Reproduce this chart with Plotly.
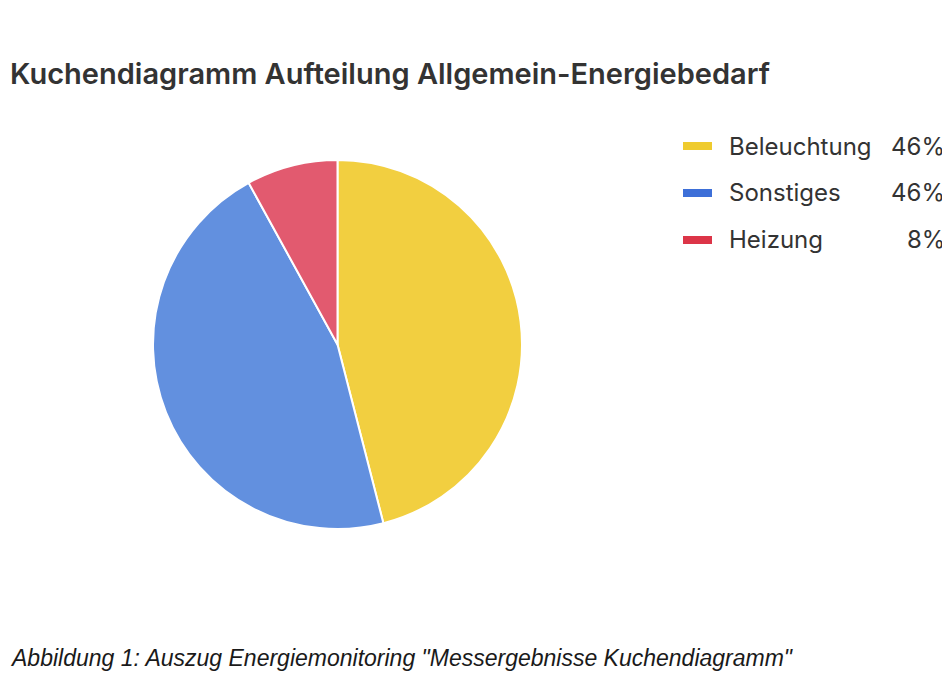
import plotly.graph_objects as go

# Daten
kategorien = ['Beleuchtung', 'Sonstiges', 'Heizung']
anteile = [46, 46, 8]
farben_pie = ['#F2CF40', '#6290DF', '#E25A6F']
farben_legende = ['#EFCB2E', '#3D6FD8', '#DC3548']

titel = 'Kuchendiagramm Aufteilung Allgemein-Energiebedarf'
unterschrift = 'Abbildung 1: Auszug Energiemonitoring "Messergebnisse Kuchendiagramm"'

# die Seite hat 8px Rand (body margin), daher Figur etwas kleiner
OFF = 8
W, H = 950 - OFF, 700 - OFF


def px(sx):
    return (sx - OFF) / W


def py(sy):
    return 1 - (sy - OFF) / H


fig = go.Figure()
fig.add_trace(go.Pie(
    labels=kategorien,
    values=anteile,
    sort=False,
    direction='clockwise',
    rotation=0,
    marker=dict(colors=farben_pie, line=dict(color='white', width=2)),
    textinfo='none',
    hoverinfo='label+percent',
    domain=dict(x=[px(153), px(522)], y=[py(529), py(160)]),
    showlegend=False,
))

# eigene Legende mit Prozentwerten rechts
summe = sum(anteile)
shapes = []
annotations = []
for i, (name, wert, farbe) in enumerate(zip(kategorien, anteile, farben_legende)):
    yc = 146 + i*47
    shapes.append(dict(
        type='rect', xref='paper', yref='paper',
        x0=px(683), x1=px(712), y0=py(yc+4), y1=py(yc-4),
        fillcolor=farbe, line=dict(width=0), layer='above',
    ))
    annotations.append(dict(
        text=name, xref='paper', yref='paper',
        x=px(727), y=py(yc), xanchor='left', yanchor='middle',
        showarrow=False, font=dict(family='Inter', size=24, color='#333333'),
    ))
    annotations.append(dict(
        text=f'{round(wert/summe*100)}%', xref='paper', yref='paper',
        x=px(947), y=py(yc), xanchor='right', yanchor='middle',
        showarrow=False, font=dict(family='Inter', size=24, color='#333333'),
    ))

annotations.append(dict(
    text=titel, xref='paper', yref='paper',
    x=0, y=py(74), xanchor='left', yanchor='middle',
    showarrow=False, font=dict(family='Inter', size=29, color='#333333', weight=600),
))
annotations.append(dict(
    text=f'<i>{unterschrift}</i>', xref='paper', yref='paper',
    x=0, y=py(658), xanchor='left', yanchor='middle',
    showarrow=False, font=dict(family='Liberation Sans', size=23, color='#1a1a1a'),
))

fig.update_layout(
    width=W,
    height=H,
    margin=dict(l=0, r=0, t=0, b=0),
    paper_bgcolor='white',
    plot_bgcolor='white',
    shapes=shapes,
    annotations=annotations,
)

fig.write_html('out.html')
